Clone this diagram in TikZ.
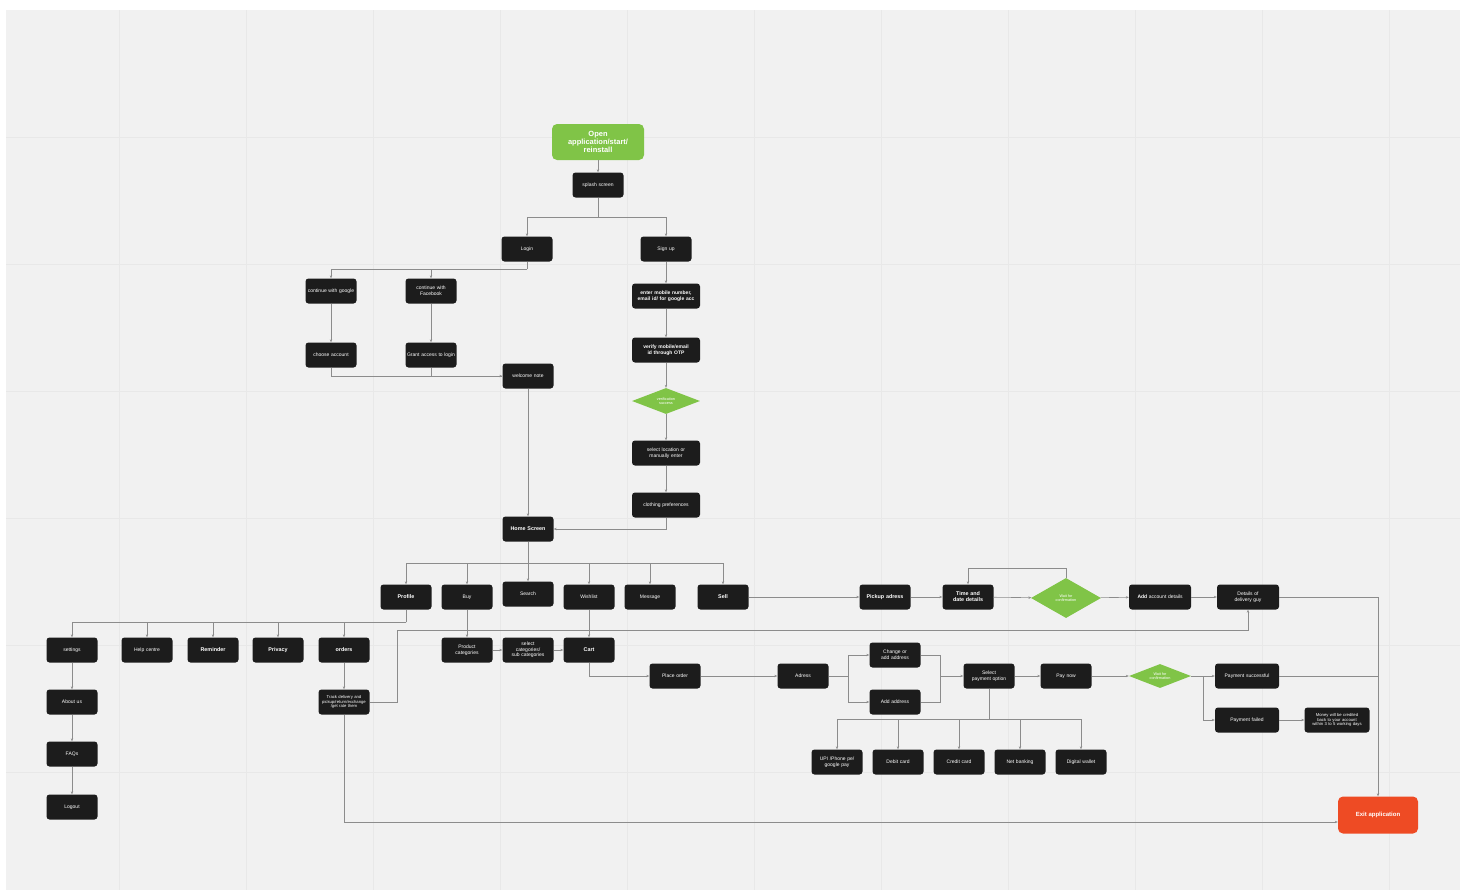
\documentclass[tikz,border=0pt]{standalone}
\usepackage{fontspec}
\setmainfont{Liberation Sans}
\usetikzlibrary{arrows.meta,shapes.geometric,calc}
\definecolor{canvas}{HTML}{F1F1F1}
\definecolor{gridc}{HTML}{E8E8E8}
\definecolor{boxc}{HTML}{1C1C1C}
\definecolor{greenc}{HTML}{80C447}
\definecolor{exitc}{HTML}{EE4B24}
\definecolor{linec}{HTML}{8C8C8C}
\tikzset{
  box/.style={rectangle, rounded corners=3pt, fill=boxc, text=white, minimum width=51pt, minimum height=25pt, inner sep=1.5pt, text width=48pt, align=center, font=\fontsize{5}{5.6}\selectfont},
  bbox/.style={box, font=\fontsize{5.4}{6}\selectfont\bfseries},
  wbox/.style={box, minimum width=68pt, text width=64pt},
  gdiam/.style={diamond, aspect=2.6, fill=greenc, text=white, inner sep=0pt, align=center, font=\fontsize{3.8}{4.2}\selectfont},
  conn/.style={draw=linec, line width=0.6pt},
  arr/.style={conn, -{Stealth[length=3pt,width=2.4pt]}},
}
\begin{document}
\begin{tikzpicture}[x=1pt,y=-1pt]
\useasboundingbox (0,0) rectangle (1466,894);
\fill[white] (0,0) rectangle (1466,894);
\fill[canvas] (6,10) rectangle (1460,890);
\foreach \gx in {119,246,373,500,627,754,881,1008,1135,1262,1389} {\draw[gridc, line width=0.5pt] (\gx,10) -- (\gx,890);}
\foreach \gy in {137,264,391,518,645,772} {\draw[gridc, line width=0.5pt] (6,\gy) -- (1460,\gy);}

% top
\node[rectangle, rounded corners=5pt, fill=greenc, text=white, minimum width=92pt, minimum height=36pt, text width=86pt, align=center, inner sep=2pt, font=\fontsize{7.5}{7.8}\selectfont\bfseries] (open) at (598,142) {Open\\application/start/\\reinstall};
\node[box] (splash) at (598,185) {splash screen};
\node[box] (login) at (527,249) {Login};
\node[box] (signup) at (666,249) {Sign up};
\node[box] (google) at (331,291) {continue with google};
\node[box] (facebook) at (431,291) {continue with Facebook};
\node[box] (choose) at (331,355) {choose account};
\node[box] (grant) at (431,355) {Grant access to login};
\node[box] (welcome) at (528,376) {welcome note};
\node[wbox, font=\fontsize{5}{5.6}\selectfont\bfseries] (enter) at (666,296) {enter mobile number, email id/ for google acc};
\node[wbox, font=\fontsize{5}{5.6}\selectfont\bfseries] (verify) at (666,350) {verify mobile/email id through OTP};
\node[gdiam, minimum width=68pt, minimum height=26pt] (success1) at (666,401) {verification\\success};
\node[wbox] (location) at (666,453) {select location or manually enter};
\node[wbox] (clothing) at (666,505) {clothing preferences};
\node[bbox] (home) at (528,529) {Home Screen};

% main row
\node[bbox] (profile) at (406,597) {Profile};
\node[box] (buy) at (467,597) {Buy};
\node[box] (search) at (528,594) {Search};
\node[box] (wishlist) at (589,597) {Wishlist};
\node[box] (message) at (650,597) {Message};
\node[bbox] (sell) at (723,597) {Sell};
\node[bbox] (pickup) at (885,597) {Pickup adress};
\node[bbox] (time) at (968,597) {Time and date details};
\node[gdiam, minimum width=70pt, minimum height=40pt] (wait) at (1066,598) {Wait for\\confirmation};
\node[box, minimum width=62pt, text width=59pt] (addacc) at (1160,597) {\textbf{Add} account details};
\node[box, minimum width=62pt, text width=59pt] (details) at (1248,597) {Details of\\delivery guy};

% profile row
\node[box] (settings) at (72,650) {settings};
\node[box] (help) at (147,650) {Help centre};
\node[bbox] (reminder) at (213,650) {Reminder};
\node[bbox] (privacy) at (278,650) {Privacy};
\node[bbox] (orders) at (344,650) {orders};
\node[box] (about) at (72,702) {About us};
\node[box] (faqs) at (72,754) {FAQs};
\node[box] (logout) at (72,807) {Logout};
\node[box, font=\fontsize{4.2}{4.6}\selectfont] (track) at (344,702) {Track delivery and pickup/return/exchange /get rate them};

% buy row
\node[box] (product) at (467,650) {Product\\categories};
\node[box] (selcat) at (528,650) {select\\categories/\\sub categories};
\node[bbox] (cart) at (589,650) {Cart};
\node[box] (place) at (675,676) {Place order};
\node[box] (adress) at (803,676) {Adress};
\node[box] (change) at (895,655) {Change or add address};
\node[box] (addaddr) at (895,702) {Add address};
\node[box] (selpay) at (989,676) {Select\\payment option};
\node[box] (paynow) at (1066,676) {Pay now};
\node[gdiam, minimum width=62pt, minimum height=24pt] (wait2) at (1160,676) {Wait for\\confirmation};
\node[box, minimum width=64pt, text width=60pt] (successp) at (1247,676) {Payment successful};
\node[box, minimum width=64pt, text width=60pt] (failed) at (1247,720) {Payment failed};
\node[box, minimum width=64pt, text width=62pt, font=\fontsize{4.2}{4.6}\selectfont] (money) at (1337,720) {Money will be credited back to your account within 3 to 5 working days};
\node[box] (upi) at (837,762) {UPI /Phone pe/\\google pay};
\node[box] (debit) at (898,762) {Debit card};
\node[box] (credit) at (959,762) {Credit card};
\node[box] (net) at (1020,762) {Net banking};
\node[box] (wallet) at (1081,762) {Digital wallet};
\node[rectangle, rounded corners=5pt, fill=exitc, text=white, minimum width=80pt, minimum height=37pt, font=\fontsize{6}{7}\selectfont\bfseries] (exit) at (1378,815) {Exit application};

% connectors top
\draw[arr] (open) -- (splash);
\coordinate (j1) at (598,217);
\draw[conn] (splash) -- (j1);
\draw[arr] (j1) -| (login.north);
\draw[arr] (j1) -| (signup.north);
\coordinate (j2) at (527,269);
\draw[conn] (login) -- (j2);
\draw[arr] (j2) -| (google.north);
\draw[arr] (j2) -| (facebook.north);
\draw[arr] (google) -- (choose);
\draw[arr] (facebook) -- (grant);
\draw[arr] (choose.south) |- (welcome.west);
\draw[conn] (grant.south) |- (welcome.west);
\draw[arr] (welcome) -- (home);
\draw[arr] (signup) -- (enter);
\draw[arr] (enter) -- (verify);
\draw[arr] (verify) -- (success1);
\draw[arr] (success1) -- (location);
\draw[arr] (location) -- (clothing);
\draw[arr] (clothing.south) |- (home.east);

% home row
\coordinate (j3) at (528,563);
\draw[conn] (home) -- (j3);
\foreach \n in {profile,buy,search,wishlist,message,sell} {\draw[arr] (j3) -| (\n.north);}
\draw[arr] (sell) -- (pickup);
\draw[arr] (pickup) -- (time);
\draw[arr] (time) -- (wait);
\draw[arr] (wait) -- (addacc);
\draw[arr] (addacc) -- (details);
\coordinate (j4) at (1066,568);
\draw[arr] (wait.north) -- (j4) -| (time.north);
\draw[arr] (details.east) -| (exit.north);

% profile row
\coordinate (j5) at (406,622);
\draw[conn] (profile) -- (j5);
\foreach \n in {settings,help,reminder,privacy,orders} {\draw[arr] (j5) -| (\n.north);}
\draw[arr] (settings) -- (about);
\draw[arr] (about) -- (faqs);
\draw[arr] (faqs) -- (logout);
\draw[arr] (orders) -- (track);
\coordinate (j6) at (397,630);
\draw[arr] (track.east) -| (j6) -| (details.south);
\coordinate (j7) at (344,822);
\draw[arr] (track.south) -- (j7) -- (exit.west |- j7);

% buy row
\draw[arr] (buy) -- (product);
\draw[arr] (wishlist) -- (cart);
\draw[arr] (product) -- (selcat);
\draw[arr] (selcat) -- (cart);
\draw[arr] (cart.south) |- (place.west);
\draw[arr] (place) -- (adress);
\coordinate (j8) at (848,676);
\draw[conn] (adress) -- (j8);
\draw[arr] (j8) |- (change.west);
\draw[arr] (j8) |- (addaddr.west);
\coordinate (j9) at (940,676);
\draw[conn] (change.east) -| (j9);
\draw[conn] (addaddr.east) -| (j9);
\draw[arr] (j9) -- (selpay.west);
\draw[arr] (selpay) -- (paynow);
\draw[arr] (paynow) -- (wait2);
\coordinate (j10) at (1203,676);
\draw[conn] (wait2) -- (j10);
\draw[arr] (j10) -- (successp.west);
\draw[arr] (j10) |- (failed.west);
\draw[conn] (successp.east) -- (successp.east -| exit.north);
\draw[arr] (failed) -- (money);
\coordinate (j11) at (989,719);
\draw[conn] (selpay) -- (j11);
\foreach \n in {upi,debit,credit,net,wallet} {\draw[arr] (j11) -| (\n.north);}
\end{tikzpicture}
\end{document}
